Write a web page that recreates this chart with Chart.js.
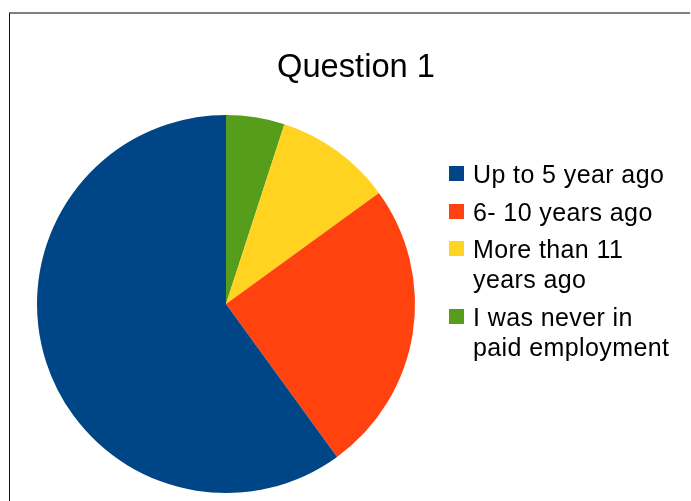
<!DOCTYPE html>
<html>
<head>
<meta charset="utf-8">
<script src="https://cdn.jsdelivr.net/npm/chart.js@4/dist/chart.umd.min.js"></script>
<style>
  html, body { margin: 0; padding: 0; background: #fff; }
  #wrap { position: relative; width: 691px; height: 501px; overflow: hidden; font-family: "Liberation Sans", Arial, sans-serif; }
  #frame { position: absolute; left: 9px; top: 12px; width: 681px; height: 500px;
           border-top: 2px solid #7f7f7f; border-left: 1px solid #111; box-sizing: border-box; }
  #chart { position: absolute; left: 0; top: 0; }
  #title { position: absolute; left: 206px; width: 300px; top: 46px; text-align: center;
           font-size: 32.7px; line-height: 40px; color: #000; }
  #legend { position: absolute; left: 449px; top: 159px; }
  .item { position: relative; padding-left: 24px; font-size: 25px; letter-spacing: 0.4px; line-height: 30px; color: #000; margin-bottom: 7.5px; white-space: nowrap; }
  .box { position: absolute; left: 0; top: 7px; width: 15px; height: 15px; }
</style>
</head>
<body>
<div id="wrap">
  <div id="frame"></div>
  <canvas id="chart" width="691" height="501"></canvas>
  <div id="title">Question 1</div>
  <div id="legend"></div>
</div>
<script>
// Answers to question 1 (percent of respondents)
const categories = [
  ["Up to 5 year ago"],
  ["6- 10 years ago"],
  ["More than 11", "years ago"],
  ["I was never in", "paid employment"]
];
const values = [60, 25, 10, 5];
const colors = ["#004586", "#ff420e", "#ffd320", "#579d1c"];

// The pie is laid out clockwise from 12 o'clock with the last answer first,
// so the slices are fed to Chart.js in reverse order.
const order = values.map((_, i) => values.length - 1 - i);

new Chart(document.getElementById("chart"), {
  type: "pie",
  data: {
    labels: order.map(i => categories[i].join(" ")),
    datasets: [{
      data: order.map(i => values[i]),
      backgroundColor: order.map(i => colors[i]),
      borderWidth: 0
    }]
  },
  options: {
    responsive: false,
    animation: false,
    rotation: 0,
    layout: { padding: { left: 37, top: 115, right: 276, bottom: 8 } },
    plugins: {
      legend: { display: false },
      title: { display: false },
      tooltip: { enabled: false }
    }
  }
});

// Legend in answer order
const legend = document.getElementById("legend");
categories.forEach((lines, i) => {
  const item = document.createElement("div");
  item.className = "item";
  const box = document.createElement("span");
  box.className = "box";
  box.style.background = colors[i];
  item.appendChild(box);
  lines.forEach((line, j) => {
    if (j) item.appendChild(document.createElement("br"));
    item.appendChild(document.createTextNode(line));
  });
  legend.appendChild(item);
});
</script>
</body>
</html>
